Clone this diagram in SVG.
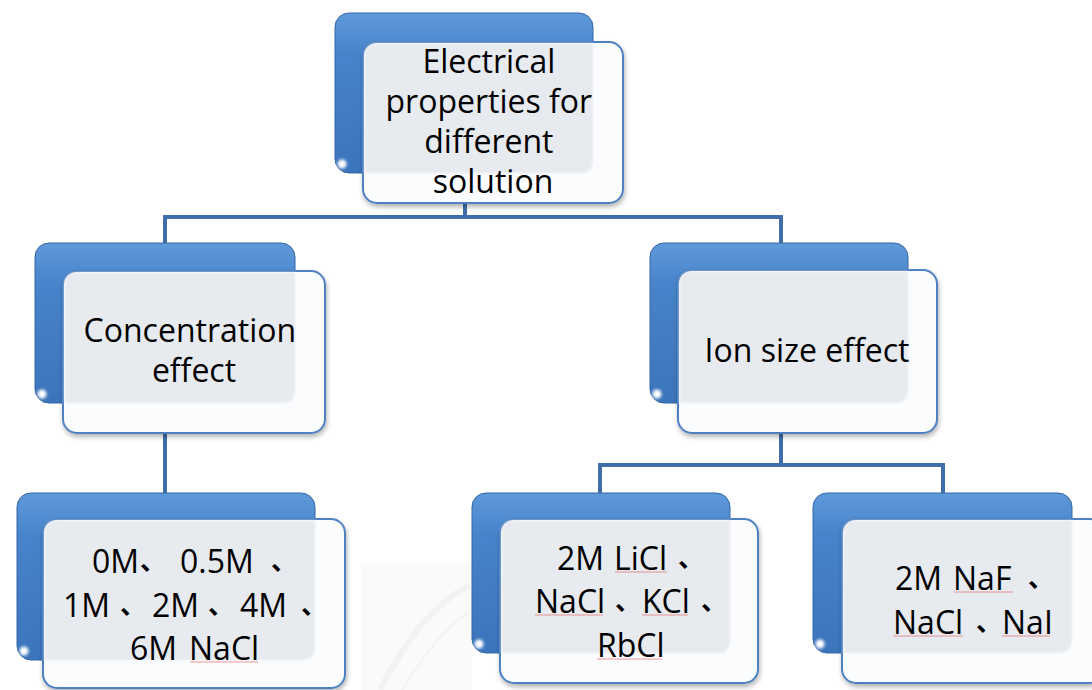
<svg xmlns="http://www.w3.org/2000/svg" width="1092" height="690" viewBox="0 0 1092 690">
  <defs>
    <linearGradient id="blueFill" x1="0" y1="0" x2="0" y2="1">
      <stop offset="0" stop-color="#5e9ad9"/>
      <stop offset="0.25" stop-color="#4884cb"/>
      <stop offset="1" stop-color="#3b74bb"/>
    </linearGradient>
    <filter id="shadow" x="-10%" y="-10%" width="125%" height="130%">
      <feGaussianBlur in="SourceAlpha" stdDeviation="2.5"/>
      <feOffset dx="1" dy="3" result="b"/>
      <feComponentTransfer><feFuncA type="linear" slope="0.3"/></feComponentTransfer>
      <feMerge><feMergeNode/><feMergeNode in="SourceGraphic"/></feMerge>
    </filter>
    <filter id="soft" x="-5%" y="-5%" width="110%" height="110%">
      <feGaussianBlur stdDeviation="1.2"/>
    </filter>
    <filter id="glow" x="-50%" y="-50%" width="200%" height="200%">
      <feGaussianBlur stdDeviation="1.5"/>
    </filter>
  </defs>
  <style>
    .back { fill: url(#blueFill); stroke: #3566a6; stroke-width: 1; }
    .hiTop { fill: none; stroke: #b5d6f6; stroke-width: 3; stroke-linecap: round; opacity: 0.75; }
    .hiLeft { fill: none; stroke: #86b6ea; stroke-width: 3; stroke-linecap: round; opacity: 0.5; }
    .spot { fill: #ffffff; }
    .front { fill: #fbfcfd; stroke: #4d81c2; stroke-width: 2; }
    .overlap { fill: #e7eaef; }
    .label { font-family: "Open Sans", "Noto Sans", sans-serif; font-size: 32px; fill: #000; }
    .mid { text-anchor: middle; }
    .cj { font-family: "Noto Sans CJK SC", sans-serif; font-size: 26px; font-weight: 700; }
    .conn { fill: none; stroke: #3f6ea8; stroke-width: 4; }
    .squig { fill: none; stroke: #e57373; stroke-width: 1; opacity: 0.75; }
  </style>

  <rect width="1092" height="690" fill="#ffffff"/>

  <!-- faint seal watermark in the background -->
  <g id="watermark" opacity="0.45">
    <rect x="361" y="563" width="111" height="127" fill="#f5f5f5"/>
    <path d="M380,690 Q420,610 470,585" fill="none" stroke="#e3e3e3" stroke-width="6"/>
    <path d="M402,690 Q440,628 470,612" fill="none" stroke="#ebebeb" stroke-width="3"/>
  </g>

  <g id="connectors">
    <path class="conn" d="M465,203 V217"/>
    <path class="conn" d="M165,245 V217 H781 V245"/>
    <path class="conn" d="M165,433 V494"/>
    <path class="conn" d="M781,433 V465"/>
    <path class="conn" d="M600,494 V465 H943 V494"/>
  </g>

  <g id="node-root">
    <rect class="back" x="335" y="13" width="258" height="160" rx="14"/>
    <path class="hiTop" d="M349,20 H579" filter="url(#glow)"/>
    <path class="hiLeft" d="M340,28 V158" filter="url(#glow)"/>
    <circle class="spot" cx="342" cy="164" r="4.5" filter="url(#glow)"/>
    <g filter="url(#shadow)">
      <rect class="front" x="363" y="42" width="260" height="161" rx="14"/>
    </g>
    <path class="overlap" filter="url(#soft)" d="M364.5,56 Q364.5,43.5 377,43.5 H593 V160 Q593,173 580,173 H364.5 Z"/>
    <text class="label mid">
      <tspan x="493" y="73">Electrical</tspan>
      <tspan x="493" y="113">properties for</tspan>
      <tspan x="493" y="153">different</tspan>
      <tspan x="493" y="193">solution</tspan>
    </text>
  </g>

  <g id="node-concentration">
    <rect class="back" x="35" y="243" width="260" height="160" rx="14"/>
    <path class="hiTop" d="M49,250 H281" filter="url(#glow)"/>
    <path class="hiLeft" d="M40,258 V388" filter="url(#glow)"/>
    <circle class="spot" cx="42" cy="394" r="4.5" filter="url(#glow)"/>
    <g filter="url(#shadow)">
      <rect class="front" x="63" y="271" width="262" height="162" rx="14"/>
    </g>
    <path class="overlap" filter="url(#soft)" d="M64.5,285 Q64.5,272.5 77,272.5 H295 V390 Q295,403 282,403 H64.5 Z"/>
    <text class="label mid">
      <tspan x="194" y="342">Concentration</tspan>
      <tspan x="194" y="382">effect</tspan>
    </text>
  </g>

  <g id="node-ionsize">
    <rect class="back" x="650" y="243" width="258" height="160" rx="14"/>
    <path class="hiTop" d="M664,250 H894" filter="url(#glow)"/>
    <path class="hiLeft" d="M655,258 V388" filter="url(#glow)"/>
    <circle class="spot" cx="657" cy="394" r="4.5" filter="url(#glow)"/>
    <g filter="url(#shadow)">
      <rect class="front" x="678" y="270" width="259" height="163" rx="14"/>
    </g>
    <path class="overlap" filter="url(#soft)" d="M679.5,284 Q679.5,271.5 692,271.5 H908 V390 Q908,403 895,403 H679.5 Z"/>
    <text class="label mid" x="807" y="362">Ion size effect</text>
  </g>

  <g id="node-nacl-conc">
    <rect class="back" x="17" y="493" width="298" height="167" rx="14"/>
    <path class="hiTop" d="M31,500 H301" filter="url(#glow)"/>
    <path class="hiLeft" d="M22,508 V645" filter="url(#glow)"/>
    <circle class="spot" cx="24" cy="651" r="4.5" filter="url(#glow)"/>
    <g filter="url(#shadow)">
      <rect class="front" x="43" y="519" width="302" height="169" rx="14"/>
    </g>
    <path class="overlap" filter="url(#soft)" d="M44.5,533 Q44.5,520.5 57,520.5 H315 V647 Q315,660 302,660 H44.5 Z"/>
    <text class="label">
      <tspan x="92" y="573">0M</tspan><tspan class="cj" x="140" y="570">、</tspan><tspan x="180" y="573">0.5M</tspan><tspan class="cj" x="271" y="570">、</tspan>
      <tspan x="63" y="617">1M</tspan><tspan class="cj" x="120" y="614">、</tspan><tspan x="152" y="617">2M</tspan><tspan class="cj" x="208" y="614">、</tspan><tspan x="240" y="617">4M</tspan><tspan class="cj" x="301" y="614">、</tspan>
      <tspan x="130" y="660">6M</tspan><tspan x="189" y="660">NaCl</tspan>
    </text>
    <path class="squig" d="M190,662 H258"/>
  </g>

  <g id="node-chlorides">
    <rect class="back" x="472" y="493" width="258" height="160" rx="14"/>
    <path class="hiTop" d="M486,500 H716" filter="url(#glow)"/>
    <path class="hiLeft" d="M477,508 V638" filter="url(#glow)"/>
    <circle class="spot" cx="479" cy="644" r="4.5" filter="url(#glow)"/>
    <g filter="url(#shadow)">
      <rect class="front" x="500" y="519" width="258" height="164" rx="14"/>
    </g>
    <path class="overlap" filter="url(#soft)" d="M501.5,533 Q501.5,520.5 514,520.5 H730 V640 Q730,653 717,653 H501.5 Z"/>
    <text class="label">
      <tspan x="557" y="570">2M</tspan><tspan x="614" y="570">LiCl</tspan><tspan class="cj" x="678" y="567">、</tspan>
      <tspan x="535" y="613">NaCl</tspan><tspan class="cj" x="615" y="610">、</tspan><tspan x="642" y="613">KCl</tspan><tspan class="cj" x="701" y="610">、</tspan>
      <tspan x="597" y="657">RbCl</tspan>
    </text>
    <path class="squig" d="M615,572 H667"/>
    <path class="squig" d="M535,615 H603"/>
    <path class="squig" d="M642,615 H688"/>
    <path class="squig" d="M597,659 H662"/>
  </g>

  <g id="node-sodium">
    <rect class="back" x="813" y="493" width="259" height="160" rx="14"/>
    <path class="hiTop" d="M827,500 H1058" filter="url(#glow)"/>
    <path class="hiLeft" d="M818,508 V638" filter="url(#glow)"/>
    <circle class="spot" cx="820" cy="644" r="4.5" filter="url(#glow)"/>
    <g filter="url(#shadow)">
      <rect class="front" x="842" y="519" width="262" height="164" rx="14"/>
    </g>
    <path class="overlap" filter="url(#soft)" d="M843.5,533 Q843.5,520.5 856,520.5 H1072 V640 Q1072,653 1059,653 H843.5 Z"/>
    <text class="label">
      <tspan x="895" y="590">2M</tspan><tspan x="953" y="590">NaF</tspan><tspan class="cj" x="1028" y="587">、</tspan>
      <tspan x="893" y="634">NaCl</tspan><tspan class="cj" x="976" y="631">、</tspan><tspan x="1002" y="634">NaI</tspan>
    </text>
    <path class="squig" d="M954,592 H1013"/>
    <path class="squig" d="M893,636 H963"/>
    <path class="squig" d="M1002,636 H1050"/>
  </g>
</svg>
